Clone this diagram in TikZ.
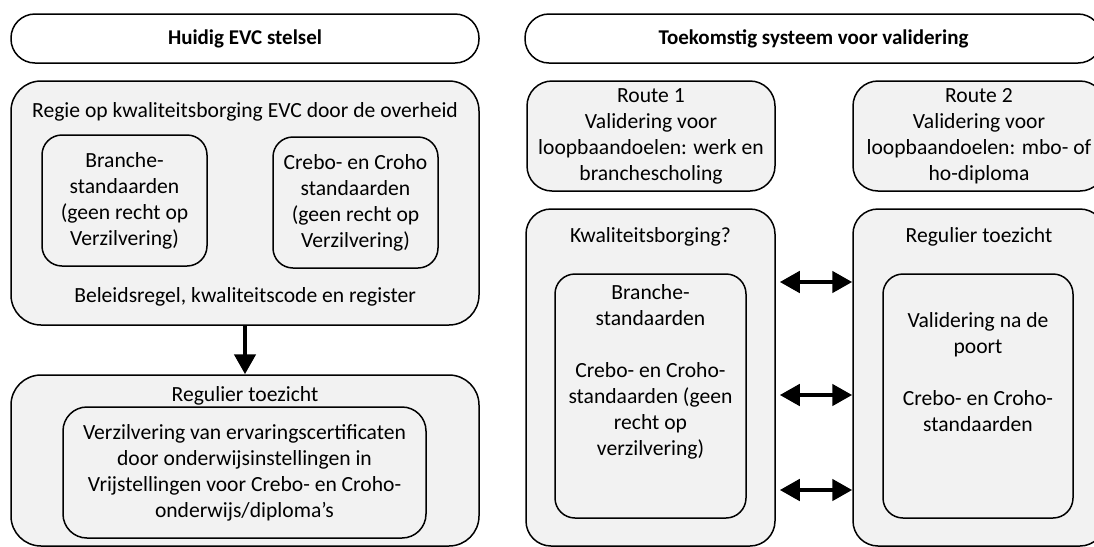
\documentclass[tikz,border=0pt]{standalone}
\usepackage{fontspec}
\setmainfont{Carlito}
\usepackage{tikz}
\usetikzlibrary{arrows.meta}
\definecolor{boxgray}{HTML}{F2F2F2}

\begin{document}
\begin{tikzpicture}[x=1pt, y=-1pt]
 \tikzstyle{every node}=[font=\fontsize{10.8}{13}\selectfont, align=center]
 \tikzstyle{hnode}=[draw, line width=0.75pt, fill=white, rounded corners=12pt, minimum height=24.5pt, inner sep=0pt, font=\fontsize{10.5}{13}\selectfont\bfseries]
 \tikzstyle{bnode}=[draw, line width=0.75pt, fill=boxgray, rounded corners=15pt, inner sep=0pt]
 \tikzstyle{inode}=[draw, line width=0.75pt, fill=boxgray, rounded corners=10pt, inner sep=0pt]
 \tikzstyle{line} = [draw, line width=2.3pt, -{Triangle[length=10pt, width=10.5pt]}]
 \tikzstyle{dline} = [draw, line width=2.3pt, {Triangle[length=10pt, width=10.5pt]}-{Triangle[length=10pt, width=10.5pt]}]

 \useasboundingbox (0,0) rectangle (547,273.5);

 % huidig stelsel
 \node[hnode, minimum width=234pt] (hdrL) at (122.5,19.25) {Huidig EVC stelsel};
 \node[bnode, minimum width=234pt, minimum height=122pt] (regie) at (122.5,101.5) {};
 \node (regietxt) at (122.5,56) {Regie op kwaliteitsborging EVC door de overheid};
 \node[inode, minimum width=82.5pt, minimum height=65.5pt] (brn) at (62.25,100.25)
   {Branche-\\standaarden\\(geen recht op\\Verzilvering)};
 \node[inode, minimum width=82.5pt, minimum height=65.5pt] (crb) at (177.75,101.25)
   {Crebo- en Croho\\standaarden\\(geen recht op\\Verzilvering)};
 \node (beltxt) at (122.5,148.5) {Beleidsregel, kwaliteitscode en register};
 \node[bnode, minimum width=234pt, minimum height=85.5pt] (regL) at (122.5,230.25) {};
 \node (regLtxt) at (122.5,198) {Regulier toezicht};
 \node[inode, rounded corners=12pt, minimum width=181.5pt, minimum height=65.5pt] (verz) at (122.25,236.25)
   {Verzilvering van ervaringscertificaten\\door onderwijsinstellingen in\\Vrijstellingen voor Crebo- en Croho-\\onderwijs/diploma’s};
 \path [line] (regie) -- (regL);

 % toekomstig systeem
 \node[hnode, minimum width=288.5pt] (hdrR) at (406.75,19.25) {Toekomstig systeem voor validering};
 \node[bnode, rounded corners=12.5pt, minimum width=124pt, minimum height=55pt] (route1) at (325.5,68)
   {Route 1\\Validering voor\\loopbaandoelen: werk en\\branchescholing};
 \node[bnode, rounded corners=12.5pt, minimum width=126pt, minimum height=55pt] (route2) at (489.5,68)
   {Route 2\\Validering voor\\loopbaandoelen: mbo- of\\ho-diploma};
 \node[bnode, rounded corners=12.5pt, minimum width=124.5pt, minimum height=168.5pt] (kwal) at (325.25,188.75) {};
 \node (kwaltxt) at (325.25,118.5) {Kwaliteitsborging?};
 \node[inode, minimum width=95.5pt, minimum height=122pt] (brn2) at (325.25,198) {};
 \node (brn2txt) at (325.25,186)
   {Branche-\\standaarden\\[13pt]Crebo- en Croho-\\standaarden (geen\\recht op\\verzilvering)};
 \node[bnode, rounded corners=12.5pt, minimum width=126pt, minimum height=168.5pt] (regR) at (489.5,188.75) {};
 \node (regRtxt) at (489.5,118.5) {Regulier toezicht};
 \node[inode, minimum width=95pt, minimum height=122pt] (val) at (489,198) {};
 \node (valtxt) at (489,186)
   {Validering na de\\poort\\[13pt]Crebo- en Croho-\\standaarden};

 \coordinate (a1) at (0,141);
 \coordinate (a2) at (0,197.5);
 \coordinate (a3) at (0,245);
 \path [dline] ([xshift=2pt]kwal.east |- a1) -- (regR.west |- a1);
 \path [dline] ([xshift=2pt]kwal.east |- a2) -- (regR.west |- a2);
 \path [dline] ([xshift=2pt]kwal.east |- a3) -- (regR.west |- a3);
\end{tikzpicture}
\end{document}
